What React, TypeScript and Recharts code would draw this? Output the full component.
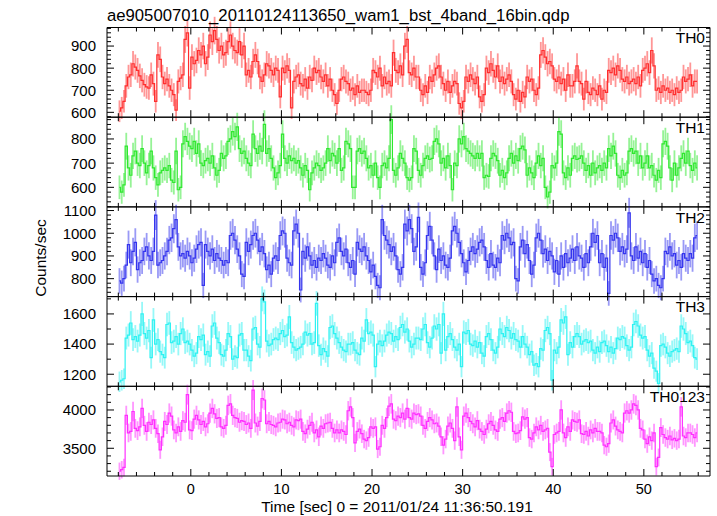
import React from 'react';
import { ComposedChart, Line, XAxis, YAxis, ErrorBar } from 'recharts';

// time bins: 0.25 s, first bin centre at -7.875 s
const T_START = -7.875;
const BIN = 0.25;

const TH0 = [
  605, 620, 650, 720, 760, 770, 820, 805, 790, 765, 745, 725, 715, 710, 770, 730,
  650, 860, 840, 760, 730, 750, 720, 700, 680, 610, 740, 755, 770, 930, 960, 710,
  850, 820, 835, 880, 860, 900, 820, 850, 950, 920, 970, 930, 880, 900, 860, 870,
  920, 950, 900, 880, 870, 920, 860, 900, 770, 790, 760, 830, 860, 830, 760, 740,
  770, 820, 810, 790, 770, 800, 790, 670, 800, 780, 810, 790, 620, 740, 760, 770,
  730, 720, 750, 710, 760, 745, 800, 780, 790, 760, 740, 770, 720, 750, 700, 680,
  640, 700, 750, 760, 740, 730, 700, 710, 680, 720, 690, 700, 700, 690, 680, 700,
  790, 780, 760, 800, 720, 760, 730, 740, 720, 870, 790, 780, 810, 770, 900, 930,
  780, 770, 800, 760, 760, 700, 680, 720, 690, 760, 740, 770, 800, 810, 760, 730,
  700, 740, 690, 720, 740, 730, 640, 620, 650, 760, 740, 770, 750, 730, 760, 670,
  650, 680, 800, 780, 820, 790, 760, 810, 740, 760, 730, 750, 770, 740, 680, 660,
  700, 650, 690, 670, 760, 740, 750, 700, 680, 710, 860, 880, 850, 820, 830, 810,
  750, 740, 760, 730, 750, 700, 770, 720, 720, 740, 810, 740, 730, 660, 740, 690,
  680, 710, 700, 680, 720, 660, 700, 690, 790, 780, 800, 770, 810, 790, 750, 740,
  760, 730, 740, 750, 730, 760, 720, 790, 800, 820, 780, 880, 810, 700, 710, 690,
  720, 700, 710, 690, 700, 680, 710, 690, 700, 760, 740, 750, 770, 720, 740, 740,
];

const TH1 = [
  600, 580, 610, 770, 680, 650, 730, 750, 700, 690, 760, 700, 660, 690, 750, 680,
  640, 610, 660, 670, 680, 670, 690, 630, 620, 750, 590, 600, 780, 810, 790, 770,
  760, 790, 740, 780, 700, 690, 710, 720, 700, 730, 680, 650, 670, 740, 720, 730,
  790, 800, 830, 810, 850, 760, 740, 750, 720, 700, 690, 820, 760, 740, 770, 750,
  860, 740, 760, 720, 680, 640, 660, 690, 820, 720, 700, 730, 710, 720, 700, 710,
  680, 650, 690, 670, 590, 660, 680, 700, 690, 670, 680, 700, 760, 710, 740, 730,
  700, 760, 670, 680, 790, 780, 760, 600, 600, 750, 760, 740, 750, 720, 680, 690,
  650, 700, 640, 600, 690, 700, 680, 720, 880, 670, 650, 680, 740, 720, 700, 640,
  630, 640, 760, 750, 670, 650, 690, 720, 730, 715, 720, 790, 800, 780, 700, 720,
  680, 730, 690, 590, 700, 690, 800, 780, 810, 760, 750, 740, 730, 720, 740, 720,
  740, 640, 650, 645, 720, 740, 730, 710, 650, 670, 640, 660, 720, 740, 700, 730,
  710, 760, 770, 755, 650, 680, 660, 640, 700, 730, 690, 720, 600, 560, 580, 690,
  680, 700, 830, 820, 660, 640, 680, 650, 720, 730, 715, 720, 730, 700, 670, 690,
  650, 700, 660, 680, 690, 670, 700, 680, 760, 730, 770, 740, 650, 640, 670, 650,
  660, 750, 760, 740, 750, 700, 730, 680, 700, 730, 680, 690, 650, 630, 670, 640,
  780, 790, 770, 680, 630, 700, 650, 680, 720, 740, 700, 750, 690, 670, 700, 680,
];

const TH2 = [
  790, 780, 800, 860, 950, 870, 920, 960, 840, 870, 880, 920, 940, 900, 880, 920,
  1080, 860, 870, 880, 900, 920, 970, 980, 1020, 1060, 940, 900, 910, 890, 920, 900,
  870, 890, 930, 950, 960, 770, 950, 920, 900, 930, 880, 910, 890, 880, 860, 880,
  870, 990, 1000, 970, 930, 900, 820, 810, 960, 920, 950, 990, 1000, 970, 920, 940,
  910, 840, 860, 820, 890, 900, 880, 990, 1010, 1000, 890, 870, 860, 1010, 1040, 1000,
  750, 920, 890, 940, 900, 860, 880, 850, 890, 880, 910, 890, 860, 850, 900, 870,
  960, 980, 920, 900, 930, 870, 850, 880, 820, 960, 930, 920, 940, 900, 880, 830,
  860, 810, 770, 760, 1060, 990, 970, 950, 920, 940, 900, 840, 820, 850, 1040, 1010,
  1060, 1020, 920, 940, 1070, 850, 820, 870, 990, 1030, 970, 900, 840, 930, 880, 900,
  860, 850, 890, 1010, 1030, 1000, 960, 910, 870, 830, 880, 920, 940, 910, 930, 960,
  970, 940, 880, 850, 910, 860, 850, 890, 870, 990, 970, 1000, 980, 950, 960, 800,
  790, 940, 970, 910, 950, 880, 820, 860, 980, 1000, 970, 910, 930, 880, 920, 900,
  830, 880, 820, 900, 850, 910, 870, 890, 930, 880, 940, 900, 890, 850, 910, 870,
  940, 1000, 960, 990, 870, 910, 850, 890, 735, 990, 970, 1000, 980, 920, 940, 910,
  930, 1090, 900, 880, 940, 890, 920, 870, 910, 850, 880, 820, 790, 800, 770, 760,
  800, 920, 910, 940, 900, 910, 860, 880, 850, 910, 890, 880, 910, 890, 980, 990,
];

const TH3 = [
  1150, 1160, 1170, 1440, 1460, 1540, 1430, 1450, 1420, 1460, 1600, 1470, 1440, 1490, 1310, 1560,
  1400, 1430, 1350, 1330, 1310, 1530, 1540, 1410, 1420, 1450, 1400, 1470, 1500, 1410, 1420, 1400,
  1360, 1320, 1340, 1450, 1430, 1460, 1330, 1350, 1320, 1520, 1540, 1440, 1410, 1330, 1320, 1360,
  1470, 1450, 1300, 1320, 1310, 1460, 1470, 1360, 1360, 1320, 1290, 1500, 1510, 1400, 1380, 1700,
  1680, 1420, 1390, 1400, 1430, 1440, 1430, 1470, 1490, 1450, 1460, 1580, 1410, 1380, 1360, 1370,
  1380, 1400, 1480, 1460, 1470, 1400, 1410, 1670, 1390, 1330, 1370, 1350, 1320, 1510, 1520, 1470,
  1440, 1410, 1380, 1360, 1350, 1400, 1400, 1410, 1360, 1340, 1330, 1440, 1420, 1560, 1470, 1480,
  1460, 1250, 1400, 1420, 1390, 1420, 1460, 1480, 1470, 1420, 1450, 1430, 1510, 1530, 1480, 1500,
  1420, 1380, 1400, 1440, 1440, 1430, 1500, 1530, 1410, 1380, 1440, 1520, 1500, 1530, 1340, 1600,
  1360, 1450, 1470, 1430, 1380, 1360, 1400, 1250, 1480, 1470, 1490, 1400, 1390, 1420, 1380, 1410,
  1340, 1320, 1450, 1470, 1430, 1360, 1340, 1380, 1500, 1470, 1450, 1510, 1490, 1440, 1470, 1430,
  1420, 1380, 1450, 1400, 1380, 1330, 1350, 1260, 1270, 1250, 1370, 1360, 1490, 1510, 1470, 1160,
  1360, 1340, 1380, 1560, 1540, 1580, 1330, 1410, 1380, 1450, 1470, 1450, 1400, 1420, 1430, 1410,
  1420, 1360, 1340, 1380, 1350, 1410, 1420, 1390, 1350, 1380, 1340, 1370, 1440, 1430, 1450, 1440,
  1390, 1360, 1380, 1530, 1550, 1520, 1460, 1440, 1450, 1360, 1320, 1340, 1240, 1220, 1140, 1390,
  1400, 1380, 1340, 1320, 1350, 1360, 1370, 1350, 1520, 1500, 1470, 1410, 1420, 1390, 1310, 1300,
];

const TH0123 = [
  3200, 3220, 3250, 3930, 3700, 3720, 3980, 3760, 3730, 3780, 4020, 3800, 3720, 3840, 3810, 3870,
  3760, 3690, 3480, 3650, 3850, 3810, 3960, 3920, 3740, 3700, 3780, 3720, 3860, 3840, 4200, 3740,
  3730, 3880, 3930, 3870, 3810, 3850, 3780, 3820, 3960, 4020, 3950, 3890, 3900, 3780, 3760, 3800,
  4060, 4080, 3930, 3900, 3890, 3840, 3860, 3850, 3810, 3830, 3760, 4260, 3830, 3790, 3850, 4150,
  4130, 3820, 3850, 3810, 3800, 3780, 3830, 3840, 3880, 3870, 3820, 3840, 3800, 3780, 3870, 3860,
  3880, 3720, 3690, 3750, 3800, 3840, 3700, 3740, 3650, 3790, 3760, 3820, 3830, 3840, 3760, 3700,
  3740, 3700, 3740, 3720, 3680, 3990, 4040, 3900, 3570, 3720, 3750, 3690, 3620, 3600, 3640, 3780,
  3760, 3780, 3490, 3520, 3800, 3760, 3900, 4050, 4080, 3880, 3860, 3920, 3900, 3960, 3880, 4020,
  3900, 3880, 3960, 3940, 3950, 3920, 3800, 3760, 3850, 3900, 3870, 3820, 3830, 3790, 3650, 3540,
  3620, 3790, 3830, 3760, 3600, 4040, 3650, 3480, 3920, 3960, 3900, 3850, 3820, 3780, 3860, 3750,
  3720, 3680, 3750, 3820, 3850, 3800, 3740, 3720, 3880, 3900, 3850, 3960, 3990, 3970, 3720, 3690,
  3700, 3730, 3910, 3880, 3900, 3640, 3620, 3700, 3780, 3740, 3800, 3720, 3740, 3760, 3450, 3260,
  3680, 3700, 3720, 4000, 3700, 3640, 3780, 3720, 3870, 3850, 3840, 3870, 3690, 3680, 3720, 3660,
  3740, 3700, 3760, 3720, 3720, 3700, 3540, 3520, 3560, 3830, 3870, 3790, 3740, 3720, 3700, 3960,
  3990, 3960, 4000, 4080, 4060, 4000, 3760, 3740, 3620, 3560, 3650, 3600, 3700, 3260, 3380, 3770,
  3680, 3640, 3620, 3660, 3610, 3630, 3600, 3620, 4040, 3660, 3640, 3700, 3700, 3680, 3640, 3700,
];

const X_TICKS = [-8, -6, -4, -2, 0, 2, 4, 6, 8, 10, 12, 14, 16, 18, 20, 22, 24, 26, 28, 30, 32, 34, 36, 38, 40, 42, 44, 46, 48, 50, 52, 54, 56];
const X_DOMAIN: [number, number] = [-9.25, 57.3];

const TH0_TICKS = [580, 600, 620, 640, 660, 680, 700, 720, 740, 760, 780, 800, 820, 840, 860, 880, 900, 920, 940, 960, 980];
const TH1_TICKS = [520, 540, 560, 580, 600, 620, 640, 660, 680, 700, 720, 740, 760, 780, 800, 820, 840, 860, 880];
const TH2_TICKS = [740, 760, 780, 800, 820, 840, 860, 880, 900, 920, 940, 960, 980, 1000, 1020, 1040, 1060, 1080, 1100];
const TH3_TICKS = [1200, 1300, 1400, 1500, 1600, 1700];
const TH0123_TICKS = [3200, 3300, 3400, 3500, 3600, 3700, 3800, 3900, 4000, 4100, 4200, 4300];

const TITLE = 'ae905007010_20110124113650_wam1_bst_4band_16bin.qdp';
const X_TITLE = 'Time [sec] 0 = 2011/01/24 11:36:50.191';
const Y_TITLE = 'Counts/sec';

const FONT = '"Liberation Sans", Arial, Helvetica, sans-serif';
const W = 717;
const H = 516;
const LEFT = 107;
const RIGHT = 710;
const PANEL_TOPS = [27.5, 117.2, 206.9, 296.6, 386.3];
const PANEL_H = 89.7;

type Panel = {
  name: string;
  values: number[];
  color: string;
  domain: [number, number];
  ticks: number[];
  major: number;
};

const PANELS: Panel[] = [
  { name: 'TH0', values: TH0, color: '#ff2e2e', domain: [578, 984], ticks: TH0_TICKS, major: 100 },
  { name: 'TH1', values: TH1, color: '#2ee82e', domain: [519, 890], ticks: TH1_TICKS, major: 100 },
  { name: 'TH2', values: TH2, color: '#3434ee', domain: [721, 1116], ticks: TH2_TICKS, major: 100 },
  { name: 'TH3', values: TH3, color: '#2ef2f2', domain: [1120, 1715], ticks: TH3_TICKS, major: 200 },
  { name: 'TH0123', values: TH0123, color: '#ff2eff', domain: [3138, 4309], ticks: TH0123_TICKS, major: 500 },
];

const mkXTick = (pos: 'top' | 'bottom', showLabels: boolean) => (p: any) => {
  const v = p.payload.value as number;
  const major = v % 10 === 0;
  const len = major ? 7 : 4;
  const x = p.x;
  const y = p.y;
  const y2 = pos === 'bottom' ? y - len : y + len;
  return (
    <g>
      <line x1={x} y1={y} x2={x} y2={y2} stroke="#000" strokeWidth={1} />
      {showLabels && pos === 'bottom' && major && v >= 0 ? (
        <text x={x} y={y + 18} textAnchor="middle" fontSize={14.5} fontFamily={FONT} fill="#000">
          {v}
        </text>
      ) : null}
    </g>
  );
};

const mkYTick = (side: 'left' | 'right', major: number) => (p: any) => {
  const v = p.payload.value as number;
  const isMajor = Math.abs(v % major) < 1e-6;
  const len = isMajor ? 7 : 4;
  const x = p.x;
  const y = p.y;
  const x2 = side === 'left' ? x + len : x - len;
  return (
    <g>
      <line x1={x} y1={y} x2={x2} y2={y} stroke="#000" strokeWidth={1} />
      {side === 'left' && isMajor ? (
        <text x={x - 11} y={y} dy="0.36em" textAnchor="end" fontSize={15} fontFamily={FONT} fill="#000">
          {v}
        </text>
      ) : null}
    </g>
  );
};

function PanelChart({ panel, index }: { panel: Panel; index: number }) {
  const top = PANEL_TOPS[index];
  const bottom = top + PANEL_H;
  const isLast = index === PANELS.length - 1;
  const data = panel.values.map((v, i) => ({
    t: T_START + i * BIN,
    v,
    e: Math.sqrt(v * BIN) / BIN,
  }));
  return (
    <div style={{ position: 'absolute', left: 0, top: 0 }}>
      <ComposedChart
        width={W}
        height={H}
        data={data}
        margin={{ top: top - 1, bottom: H - bottom - 1, left: LEFT - 1, right: W - RIGHT - 1 }}
      >
        <XAxis
          xAxisId="b"
          dataKey="t"
          type="number"
          domain={X_DOMAIN}
          allowDataOverflow
          ticks={X_TICKS}
          interval={0}
          height={1}
          tickSize={0}
          tickMargin={0}
          tickLine={false}
          axisLine={{ stroke: '#000', strokeWidth: 1 }}
          tick={mkXTick('bottom', isLast)}
        />
        <XAxis
          xAxisId="t"
          orientation="top"
          dataKey="t"
          type="number"
          domain={X_DOMAIN}
          allowDataOverflow
          ticks={X_TICKS}
          interval={0}
          height={1}
          tickSize={0}
          tickMargin={0}
          tickLine={false}
          axisLine={{ stroke: '#000', strokeWidth: 1 }}
          tick={mkXTick('top', false)}
        />
        <YAxis
          yAxisId="l"
          type="number"
          domain={panel.domain}
          allowDataOverflow
          ticks={panel.ticks}
          interval={0}
          width={1}
          tickSize={0}
          tickMargin={0}
          tickLine={false}
          axisLine={{ stroke: '#000', strokeWidth: 1 }}
          tick={mkYTick('left', panel.major)}
        />
        <YAxis
          yAxisId="r"
          orientation="right"
          type="number"
          domain={panel.domain}
          allowDataOverflow
          ticks={panel.ticks}
          interval={0}
          width={1}
          tickSize={0}
          tickMargin={0}
          tickLine={false}
          axisLine={{ stroke: '#000', strokeWidth: 1 }}
          tick={mkYTick('right', panel.major)}
        />
        <Line
          xAxisId="b"
          yAxisId="l"
          type="step"
          dataKey="v"
          stroke={panel.color}
          strokeWidth={1.2}
          dot={false}
          activeDot={false}
          isAnimationActive={false}
        >
          <ErrorBar
            dataKey="e"
            direction="y"
            width={0}
            stroke={panel.color}
            strokeWidth={1.8}
            strokeOpacity={0.5}
            isAnimationActive={false}
          />
        </Line>
      </ComposedChart>
    </div>
  );
}

export default function App() {
  return (
    <div style={{ position: 'absolute', left: 0, top: 0, width: W, height: H, background: '#fff' }}>
      {PANELS.map((p, i) => (
        <PanelChart key={p.name} panel={p} index={i} />
      ))}
      <svg width={W} height={H} style={{ position: 'absolute', left: 0, top: 0, pointerEvents: 'none' }}>
        <text x={LEFT} y={20.5} fontSize={16.7} fontFamily={FONT} fill="#000">
          {TITLE}
        </text>
        {PANELS.map((p, i) => (
          <text
            key={p.name}
            x={705}
            y={PANEL_TOPS[i] + 15.6}
            textAnchor="end"
            fontSize={15.5}
            fontFamily={FONT}
            fill="#000"
          >
            {p.name}
          </text>
        ))}
        <text x={397} y={512} textAnchor="middle" fontSize={15.5} fontFamily={FONT} fill="#000">
          {X_TITLE}
        </text>
        <text
          x={40}
          y={258}
          textAnchor="middle"
          dy="0.36em"
          transform="rotate(-90 40 258)"
          fontSize={15.5}
          fontFamily={FONT}
          fill="#000"
        >
          {Y_TITLE}
        </text>
      </svg>
    </div>
  );
}
